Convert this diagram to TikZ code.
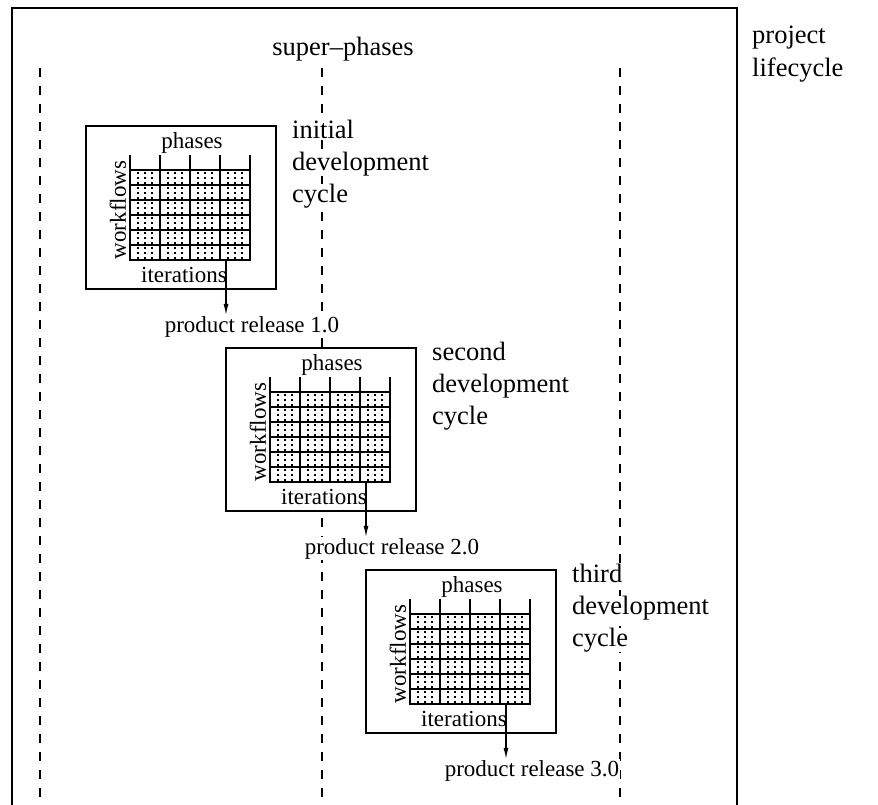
\documentclass[tikz,border=0pt]{standalone}
\usepackage{fontspec}
\setmainfont{Liberation Serif}
\usetikzlibrary{arrows.meta}
\tikzset{
  frame/.style={line width=2.2pt},
  sepline/.style={line width=1.1pt, dash pattern=on 9pt off 9pt},
  devbox/.style={draw, line width=1.1pt, fill=white, minimum width=190pt, minimum height=163pt, anchor=north west, inner sep=0pt, outer sep=0pt},
  gridline/.style={line width=1.4pt, line cap=rect},
  dotline/.style={line width=1.6pt, dash pattern=on 1.6pt off 3.4pt, dash phase=-2pt},
  small/.style={font=\fontsize{23}{26}\selectfont, inner sep=0pt},
  big/.style={font=\fontsize{26.5}{32}\selectfont, inner sep=0pt, fill=white},
  rel/.style={small, fill=white, inner sep=1pt},
  release/.style={line width=1.1pt, -{Latex[length=11pt,width=5pt]}}
}
\newcommand\devcycle[7]{%
\begin{scope}[shift={(#2,#3)}]
  \node[devbox] (#1box) at (0,0) {};
  \foreach \c in {0,...,3}
    \foreach \f in {8,15,22}
      \draw[dotline] (44+30*\c+\f,44) -- (44+30*\c+\f,134);
  \foreach \c in {0,...,4}
    \draw[gridline] (44+30*\c,30) -- (44+30*\c,134);
  \foreach \r in {0,...,6}
    \draw[gridline] (44,44+15*\r) -- (164,44+15*\r);
  \node[small, anchor=base] (#1ph) at (106,22) {phases};
  \node[small, anchor=base] (#1it) at (98,156) {iterations};
  \node[small, rotate=90, anchor=center] (#1wf) at (32,84) {workflows};
  \node[big, anchor=base west] (#1la) at (206,12) {#4};
  \node[big, anchor=base west] (#1lb) at (206,44) {#5};
  \node[big, anchor=base west] (#1lc) at (206,76) {#6};
  \node[rel, anchor=base] (#1rel) at (166,206) {#7};
  \coordinate (#1out) at (140,134);
  \draw[release] (#1out) -- (#1out |- #1rel.north);
\end{scope}}
\begin{document}
\begin{tikzpicture}[x=1pt, y=-1pt]
  \useasboundingbox (0,0) rectangle (878,804);
  \fill[white] (0,0) rectangle (878,804);
  % separators of the super-phases
  \foreach \x in {40,322,620}
    \draw[sepline] (\x,68) -- (\x,806);
  % project frame
  \draw[frame] (12,810) -- (12,8) -- (737,8) -- (737,810);
  \node[big, anchor=base] (super) at (343,55) {super--phases};
  \node[big, anchor=base west] (proja) at (752,43) {project};
  \node[big, anchor=base west] (projb) at (752,76) {lifecycle};
  \devcycle{c1}{86}{126}{initial}{development}{cycle}{product release 1.0}
  \devcycle{c2}{226}{348}{second}{development}{cycle}{product release 2.0}
  \devcycle{c3}{366}{570}{third}{development}{cycle}{product release 3.0}
\end{tikzpicture}
\end{document}
